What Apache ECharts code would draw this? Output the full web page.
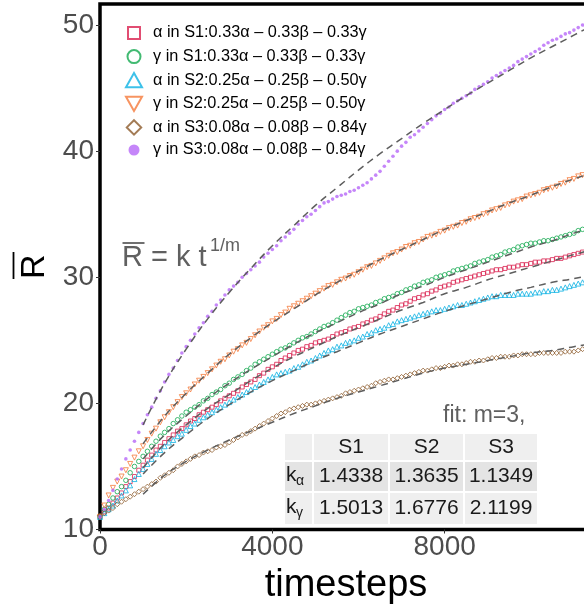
<!DOCTYPE html>
<html><head><meta charset="utf-8">
<script src="https://cdn.jsdelivr.net/npm/echarts@6/dist/echarts.min.js"></script>
<style>html,body{margin:0;padding:0;background:#fff}#c{width:584px;height:607px}</style>
</head><body><div id="c"></div>
<script>
// ---------- data ----------
const timesteps = [0,100,200,300,400,500,600,700,800,900,1000,1100,1200,1300,1400,1500,1600,1700,1800,1900,2000,2100,2200,2300,2400,2500,2600,2700,2800,2900,3000,3100,3200,3300,3400,3500,3600,3700,3800,3900,4000,4100,4200,4300,4400,4500,4600,4700,4800,4900,5000,5100,5200,5300,5400,5500,5600,5700,5800,5900,6000,6100,6200,6300,6400,6500,6600,6700,6800,6900,7000,7100,7200,7300,7400,7500,7600,7700,7800,7900,8000,8100,8200,8300,8400,8500,8600,8700,8800,8900,9000,9100,9200,9300,9400,9500,9600,9700,9800,9900,10000,10100,10200,10300,10400,10500,10600,10700,10800,10900,11000,11100,11200];

const alphaS1 = [11.0,11.4,11.7,12.1,12.5,12.9,13.4,13.8,14.2,14.7,
15.1,15.5,15.9,16.3,16.6,16.9,17.2,17.5,17.8,18.0,
18.3,18.6,18.8,19.1,19.3,19.5,19.7,19.9,20.2,20.4,
20.6,20.8,21.0,21.3,21.5,21.7,21.9,22.2,22.4,22.7,
22.9,23.1,23.4,23.6,23.8,24.0,24.2,24.3,24.5,24.6,
24.8,24.9,25.0,25.1,25.3,25.5,25.6,25.7,25.9,26.0,
26.1,26.3,26.4,26.6,26.7,26.9,27.1,27.3,27.4,27.6,
27.8,27.9,28.1,28.3,28.4,28.6,28.7,28.9,29.0,29.2,
29.3,29.4,29.6,29.7,29.8,29.9,30.0,30.1,30.2,30.3,
30.4,30.5,30.6,30.6,30.7,30.8,30.8,30.9,31.0,31.0,
31.1,31.2,31.2,31.3,31.3,31.4,31.5,31.5,31.6,31.7,
31.8,31.9,32.0];

const gammaS1 = [11.0,11.6,12.0,12.5,13.0,13.4,13.9,14.5,15.0,15.4,
15.8,16.2,16.6,17.0,17.4,17.7,18.0,18.4,18.7,19.0,
19.3,19.5,19.7,19.9,20.2,20.4,20.7,20.9,21.1,21.4,
21.6,21.9,22.1,22.3,22.6,22.8,23.1,23.3,23.5,23.7,
23.9,24.1,24.3,24.4,24.6,24.8,25.0,25.2,25.3,25.5,
25.7,25.9,26.1,26.2,26.4,26.6,26.8,27.0,27.2,27.3,
27.5,27.6,27.7,27.8,28.0,28.1,28.3,28.4,28.5,28.7,
28.8,29.0,29.1,29.3,29.4,29.6,29.7,29.8,30.0,30.1,
30.2,30.3,30.5,30.6,30.7,30.8,30.9,31.1,31.2,31.3,
31.4,31.6,31.7,31.8,32.0,32.1,32.2,32.4,32.5,32.6,
32.7,32.7,32.8,32.9,32.9,33.0,33.1,33.2,33.3,33.4,
33.5,33.7,33.8];

const alphaS2 = [11.0,11.3,11.6,11.9,12.3,12.7,13.1,13.5,14.0,14.4,
14.8,15.2,15.6,16.0,16.3,16.6,16.9,17.1,17.4,17.6,
17.9,18.2,18.4,18.7,18.9,19.1,19.3,19.5,19.7,19.9,
20.1,20.3,20.5,20.7,20.9,21.1,21.3,21.5,21.7,21.9,
22.1,22.3,22.4,22.5,22.6,22.8,22.9,23.1,23.3,23.4,
23.6,23.8,24.0,24.2,24.3,24.5,24.6,24.8,24.9,25.0,
25.2,25.3,25.5,25.6,25.8,25.9,26.0,26.2,26.3,26.5,
26.6,26.7,26.8,26.9,27.0,27.1,27.2,27.3,27.4,27.4,
27.5,27.6,27.7,27.8,27.8,27.9,28.0,28.1,28.2,28.3,
28.4,28.5,28.5,28.6,28.6,28.6,28.6,28.7,28.7,28.7,
28.7,28.8,28.8,28.9,28.9,29.0,29.0,29.1,29.2,29.3,
29.4,29.5,29.6];

const gammaS2 = [11.0,11.9,12.7,13.3,13.8,14.2,14.7,15.2,15.7,16.2,
16.6,17.1,17.6,18.0,18.5,18.9,19.3,19.7,20.1,20.5,
20.8,21.1,21.5,21.8,22.1,22.4,22.7,23.0,23.3,23.5,
23.8,24.1,24.3,24.6,24.8,25.1,25.4,25.7,26.0,26.2,
26.5,26.7,27.0,27.2,27.5,27.7,27.9,28.1,28.3,28.5,
28.7,28.9,29.1,29.3,29.4,29.6,29.8,29.9,30.1,30.2,
30.4,30.6,30.8,30.9,31.1,31.3,31.5,31.7,31.9,32.0,
32.2,32.4,32.5,32.7,32.8,33.0,33.2,33.3,33.4,33.6,
33.7,33.9,34.0,34.1,34.3,34.4,34.6,34.7,34.8,35.0,
35.1,35.3,35.4,35.5,35.7,35.8,36.0,36.1,36.2,36.4,
36.5,36.6,36.7,36.9,37.0,37.1,37.2,37.4,37.5,37.7,
37.8,38.0,38.1];

const alphaS3 = [11.1,11.3,11.5,11.7,12.0,12.2,12.4,12.6,12.8,13.0,
13.2,13.4,13.6,13.8,14.1,14.3,14.5,14.7,15.0,15.2,
15.4,15.6,15.8,15.9,16.1,16.2,16.3,16.5,16.6,16.7,
16.9,17.1,17.3,17.5,17.6,17.8,18.0,18.2,18.4,18.6,
18.8,19.0,19.2,19.3,19.5,19.6,19.7,19.8,19.9,19.9,
20.0,20.1,20.2,20.3,20.4,20.5,20.6,20.8,20.9,21.0,
21.1,21.2,21.3,21.4,21.6,21.7,21.8,21.9,21.9,22.0,
22.1,22.2,22.3,22.4,22.5,22.6,22.6,22.7,22.8,22.8,
22.9,23.0,23.0,23.1,23.1,23.2,23.3,23.3,23.4,23.4,
23.5,23.6,23.6,23.7,23.7,23.7,23.8,23.8,23.9,23.9,
23.9,23.9,24.0,24.0,24.0,24.0,24.0,24.0,24.1,24.1,
24.1,24.2,24.3];

const gammaS3 = [11.0,11.6,12.3,13.1,14.0,14.8,15.6,16.3,17.0,17.7,
18.4,19.1,19.7,20.4,21.0,21.7,22.3,22.8,23.4,24.0,
24.5,25.0,25.5,26.0,26.4,26.9,27.3,27.8,28.2,28.6,
29.0,29.3,29.6,30.0,30.3,30.6,30.9,31.2,31.6,31.9,
32.2,32.5,32.9,33.2,33.5,33.8,34.2,34.5,34.8,35.0,
35.3,35.6,35.9,36.0,36.2,36.4,36.5,36.6,36.8,36.9,
37.1,37.3,37.5,37.8,38.1,38.4,38.8,39.2,39.6,40.0,
40.4,40.7,41.1,41.3,41.6,41.9,42.2,42.5,42.8,43.0,
43.3,43.5,43.8,44.0,44.2,44.4,44.6,44.9,45.1,45.3,
45.5,45.8,46.0,46.2,46.4,46.6,46.8,47.1,47.3,47.5,
47.7,47.9,48.1,48.4,48.6,48.8,48.9,49.1,49.3,49.4,
49.6,49.8,50.0];

// fitted curves (dashed)
const fitT = [1000,1500,2000,2500,3000,3500,4000,4500,5000,5500,6000,6500,7000,7500,8000,8500,9000,9500,10000,10500,11000,12000];
const fitAlphaS1 = [14.9,16.8,18.3,19.6,20.7,21.8,22.8,23.7,24.5,25.3,26.0,26.7,27.4,28.0,28.7,29.2,29.8,30.3,30.8,31.3,31.8,32.7];
const fitGammaS1 = [15.6,17.5,19.0,20.4,21.6,22.7,23.7,24.7,25.6,26.4,27.2,27.9,28.7,29.3,30.0,30.6,31.2,31.8,32.4,32.9,33.5,34.5];
const fitAlphaS2 = [14.4,16.1,17.5,18.8,19.9,20.9,21.8,22.6,23.4,24.1,24.8,25.5,26.1,26.7,27.3,27.8,28.3,28.8,29.2,29.6,29.9,30.6];
const fitGammaS2 = [16.8,19.0,20.8,22.4,23.9,25.2,26.4,27.5,28.6,29.6,30.5,31.4,32.2,33.0,33.8,34.5,35.2,35.9,36.5,37.2,37.8,38.9];
const fitAlphaS3 = [12.8,14.3,15.4,16.3,17.1,17.8,18.5,19.2,19.8,20.4,20.9,21.4,21.9,22.4,22.8,23.1,23.4,23.7,24.0,24.2,24.5,25.0];
const fitGammaS3 = [18.3,21.6,24.3,26.7,28.8,30.7,32.5,34.1,35.7,37.1,38.5,39.8,41.0,42.2,43.3,44.4,45.4,46.4,47.4,48.3,49.2,51.0];

const seriesNames = [
  'α in S1:0.33α – 0.33β – 0.33γ',
  'γ in S1:0.33α – 0.33β – 0.33γ',
  'α in S2:0.25α – 0.25β – 0.50γ',
  'γ in S2:0.25α – 0.25β – 0.50γ',
  'α in S3:0.08α – 0.08β – 0.84γ',
  'γ in S3:0.08α – 0.08β – 0.84γ'
];
const xTicks = [0, 4000, 8000];
const yTicks = [10, 20, 30, 40, 50];

// table
const tableCols = ['S1', 'S2', 'S3'];
const tableRowSubs = ['α', 'γ'];
const kAlpha = ['1.4338', '1.3635', '1.1349'];
const kGamma = ['1.5013', '1.6776', '2.1199'];
const fitLabel = 'fit: m=3,';

// ---------- styles ----------
const FONT = '"Liberation Sans", Arial, Helvetica, sans-serif';
const colors = ['#d9204f', '#13a94f', '#0db1e3', '#f5793a', '#8c5a2a', '#b768f7'];
const symbols = ['rect', 'circle', 'triangle', 'triangle', 'diamond', 'circle'];
const rotates = [0, 0, 0, 180, 0, 0];
const sizes = [4, 4.5, 5, 5, 5, 3.6];
// legend icons drawn in a 22x16 box (shape on the left 16px, free space on the right)
const B = 'M0,0M22,16';
const legendIcons = [
  'path://' + B + 'M2,2L14,2L14,14L2,14Z',
  'path://' + B + 'M8,1.5A6.5,6.5,0,1,1,8,14.5A6.5,6.5,0,1,1,8,1.5Z',
  'path://' + B + 'M8,0.8L16,15L0,15Z',
  'path://' + B + 'M0,1L16,1L8,15.2Z',
  'path://' + B + 'M8,0.8L15.2,8L8,15.2L0.8,8Z',
  'path://' + B + 'M8,2.5A5.5,5.5,0,1,1,8,13.5A5.5,5.5,0,1,1,8,2.5Z'
];

const dataSets = [alphaS1, gammaS1, alphaS2, gammaS2, alphaS3, gammaS3];
const fitSets = [fitAlphaS1, fitGammaS1, fitAlphaS2, fitGammaS2, fitAlphaS3, fitGammaS3];

const series = [];
dataSets.forEach((vals, k) => {
  const hollow = k !== 5;
  series.push({
    type: 'scatter',
    name: seriesNames[k],
    data: vals.map((v, i) => [timesteps[i], v]),
    symbol: symbols[k],
    symbolRotate: rotates[k],
    symbolSize: sizes[k],
    itemStyle: hollow ? { color: 'rgba(0,0,0,0)', borderColor: colors[k], borderWidth: 1 }
                      : { color: colors[k] },
    emphasis: { disabled: true },
    z: 2
  });
});
fitSets.forEach((vals, k) => {
  series.push({
    type: 'line',
    name: 'fit ' + k,
    data: vals.map((v, i) => [fitT[i], v]),
    smooth: 0.4,
    showSymbol: false,
    lineStyle: { color: '#5e5e5e', width: 1.5, type: [7, 5] },
    emphasis: { disabled: true },
    z: 3
  });
});

const legendData = seriesNames.map((n, k) => ({
  name: n,
  icon: legendIcons[k],
  itemStyle: k === 5 ? { color: colors[k], borderWidth: 0 }
                     : { color: '#ffffff', borderColor: colors[k], borderWidth: 2 }
}));

// table graphics
const colX = [284, 313, 389, 464, 538];
const rowY = [433, 461, 492, 525];
const rowFill = ['#efefef', '#e4e4e4', '#efefef'];
const g = [];
for (let r = 0; r < 3; r++) {
  for (let c = 0; c < 4; c++) {
    g.push({ type: 'rect', z: 100,
      shape: { x: colX[c] + 1, y: rowY[r] + 1, width: colX[c + 1] - colX[c] - 2, height: rowY[r + 1] - rowY[r] - 2 },
      style: { fill: rowFill[r] } });
  }
}
const cellText = (txt, x, y, size, color, align) => ({
  type: 'text', z: 101, x: x, y: y,
  style: { text: txt, fontSize: size, fontFamily: FONT, fill: color || '#1a1a1a', align: align || 'center', verticalAlign: 'middle' }
});
tableCols.forEach((s, c) => g.push(cellText(s, (colX[c + 1] + colX[c + 2]) / 2, (rowY[0] + rowY[1]) / 2, 21)));
[kAlpha, kGamma].forEach((row, r) => {
  const cy = (rowY[r + 1] + rowY[r + 2]) / 2;
  g.push(cellText('k', 286, cy - 1, 21, null, 'left'));
  g.push(cellText(tableRowSubs[r], 296, cy + 5, 14, null, 'left'));
  row.forEach((v, c) => g.push(cellText(v, (colX[c + 1] + colX[c + 2]) / 2, cy, 21)));
});
g.push(cellText(fitLabel, 443, 416, 23, '#606060', 'left'));
// formula
g.push(cellText('R = k t', 122, 258, 29, '#606060', 'left'));
g.push(cellText('1/m', 210, 246, 18, '#606060', 'left'));
g.push({ type: 'line', z: 101, shape: { x1: 122.5, y1: 243, x2: 144.5, y2: 243 }, style: { stroke: '#606060', lineWidth: 1.8 } });
// overline of the y-axis title
g.push({ type: 'line', z: 101, shape: { x1: 13.5, y1: 252, x2: 13.5, y2: 279 }, style: { stroke: '#000', lineWidth: 1.8 } });

const chart = echarts.init(document.getElementById('c'), null, { renderer: 'canvas' });
chart.setOption({
  animation: false,
  backgroundColor: '#fff',
  grid: { left: 100, top: 4, width: 517, bottom: 77.5, show: true, borderColor: '#000', borderWidth: 3.5,
          backgroundColor: 'rgba(0,0,0,0)', containLabel: false, outerBoundsMode: 'none' },
  legend: {
    orient: 'vertical', left: 125, top: 24, padding: 0,
    itemWidth: 22, itemHeight: 16, itemGap: 5.6, selectedMode: false, symbolKeepAspect: true,
    textStyle: { fontSize: 16.3, fontFamily: FONT, color: '#000', lineHeight: 16 },
    data: legendData
  },
  xAxis: {
    type: 'value', min: 0, max: 12000, interval: 4000,
    name: 'timesteps', nameLocation: 'middle', nameGap: 33,
    nameTextStyle: { fontSize: 38, fontFamily: FONT, color: '#000', padding: [0, 25, 0, 0] },
    axisLine: { show: false },
    axisTick: { show: true, length: 4, lineStyle: { color: '#333', width: 1 }, customValues: xTicks },
    axisLabel: { fontSize: 28, fontFamily: FONT, color: '#4d4d4d', margin: 4, customValues: xTicks, formatter: v => String(v) },
    splitLine: { show: false }
  },
  yAxis: {
    type: 'value', min: 10, max: 51.67, interval: 10,
    name: 'R', nameLocation: 'middle', nameRotate: 90, nameGap: 48,
    nameTextStyle: { fontSize: 34, fontFamily: FONT, color: '#000' },
    axisLine: { show: false },
    axisTick: { show: true, length: 4, lineStyle: { color: '#333', width: 1 }, customValues: yTicks },
    axisLabel: { fontSize: 28, fontFamily: FONT, color: '#4d4d4d', margin: 6, customValues: yTicks, formatter: v => String(v) },
    splitLine: { show: false }
  },
  graphic: g,
  series: series
});
</script></body></html>
